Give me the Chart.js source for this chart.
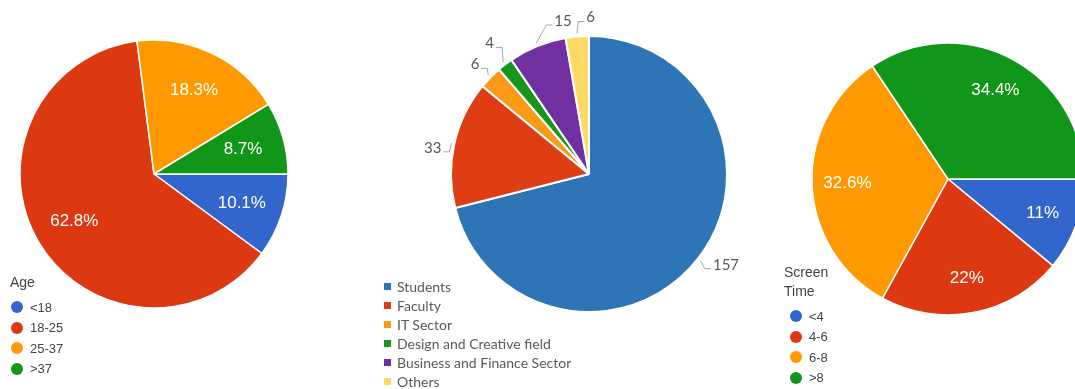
<!DOCTYPE html>
<html>
<head>
<meta charset="utf-8">
<script src="https://cdn.jsdelivr.net/npm/chart.js@4.4.1/dist/chart.umd.min.js"></script>
<style>
  html, body { margin: 0; padding: 0; background: #fff; }
  body { width: 1075px; height: 389px; overflow: hidden; position: relative; }
  canvas { position: absolute; }
  .legend { position: absolute; font-family: 'Liberation Sans', Arial, sans-serif; color: #444; }
  .legend .title { font-size: 14px; line-height: 19px; }
  .legend .item { display: flex; align-items: center; font-size: 13px; height: 20.5px; }
  .legend .dot { width: 12px; height: 12px; border-radius: 50%; margin-right: 7px; flex: none; }
  .legend.boxes { font-family: Lato, 'Open Sans', sans-serif; color: #595959; }
  .legend.boxes .item { font-size: 14px; height: 19px; }
  .legend.boxes .dot { width: 7px; height: 7px; border-radius: 0; margin-right: 6px; }
</style>
</head>
<body>
<canvas id="ageChart" width="272" height="272" style="left:18px;top:38px"></canvas>
<canvas id="jobChart" width="340" height="340" style="left:419px;top:4px"></canvas>
<canvas id="screenChart" width="290" height="290" style="left:803px;top:34px"></canvas>

<div class="legend" id="ageLegend" style="left:10px;top:273px"></div>
<div class="legend boxes" id="jobLegend" style="left:384px;top:277px"></div>
<div class="legend" id="screenLegend" style="left:784px;top:263px"></div>

<script>
// Age groups (percent of respondents)
const ageLabels = ['<18', '18-25', '25-37', '>37'];
const agePercent = [10.1, 62.8, 18.3, 8.7];

// Occupation (respondent counts)
const jobLabels = ['Students', 'Faculty', 'IT Sector', 'Design and Creative field', 'Business and Finance Sector', 'Others'];
const jobCounts = [157, 33, 6, 4, 15, 6];

// Daily screen time in hours (percent of respondents)
const screenLabels = ['<4', '4-6', '6-8', '>8'];
const screenPercent = [11, 22, 32.6, 34.4];

const googleColors = ['#3366cc', '#dc3912', '#ff9900', '#109618'];
const officeColors = ['#2e75b6', '#df3e14', '#fb9a16', '#16961a', '#7030a0', '#ffd966'];

// white percentage text inside each slice
const sliceLabels = {
  id: 'sliceLabels',
  afterDatasetsDraw(chart, args, opts) {
    const ctx = chart.ctx;
    const meta = chart.getDatasetMeta(0);
    const values = chart.data.datasets[0].data;
    ctx.save();
    ctx.font = opts.font;
    ctx.fillStyle = '#fff';
    ctx.textAlign = 'center';
    ctx.textBaseline = 'middle';
    meta.data.forEach((arc, i) => {
      const p = arc.getProps(['x', 'y', 'startAngle', 'endAngle', 'outerRadius'], true);
      const mid = (p.startAngle + p.endAngle) / 2;
      const r = p.outerRadius * opts.distance;
      ctx.fillText(values[i] + '%', p.x + Math.cos(mid) * r, p.y + Math.sin(mid) * r);
    });
    ctx.restore();
  }
};

// values outside the pie with bent leader lines
const calloutLabels = {
  id: 'calloutLabels',
  afterDatasetsDraw(chart, args, opts) {
    const ctx = chart.ctx;
    const meta = chart.getDatasetMeta(0);
    const values = chart.data.datasets[0].data;
    ctx.save();
    ctx.font = opts.font;
    ctx.lineWidth = 1;
    ctx.strokeStyle = opts.lineColor;
    ctx.fillStyle = opts.color;
    ctx.textBaseline = 'middle';
    meta.data.forEach((arc, i) => {
      const p = arc.getProps(['x', 'y', 'startAngle', 'endAngle', 'outerRadius'], true);
      const mid = (p.startAngle + p.endAngle) / 2;
      const ex = p.x + Math.cos(mid) * p.outerRadius;
      const ey = p.y + Math.sin(mid) * p.outerRadius;
      const sx = p.x + Math.cos(mid) * (p.outerRadius + 3);
      const sy = p.y + Math.sin(mid) * (p.outerRadius + 3);
      const bx = ex + opts.elbows[i][0];
      const by = ey + opts.elbows[i][1];
      const side = opts.sides[i];
      const tx = bx + side * 6;
      ctx.beginPath();
      ctx.moveTo(sx, sy);
      ctx.lineTo(bx, by);
      ctx.lineTo(tx, by);
      ctx.stroke();
      ctx.textAlign = side > 0 ? 'left' : 'right';
      ctx.fillText(String(values[i]), tx + side * 2, by - 4);
    });
    ctx.restore();
  }
};

function pieOptions(rotation, extra) {
  return {
    responsive: false,
    animation: false,
    devicePixelRatio: 1,
    rotation: rotation,
    events: [],
    layout: { padding: 0 },
    plugins: Object.assign({ legend: { display: false }, tooltip: { enabled: false } }, extra)
  };
}

new Chart(document.getElementById('ageChart'), {
  type: 'pie',
  data: {
    labels: ageLabels,
    datasets: [{ data: agePercent, backgroundColor: googleColors, borderColor: '#fff', borderWidth: 1.5, radius: 134 }]
  },
  options: pieOptions(90, { sliceLabels: { font: '17px "Liberation Sans", Arial, sans-serif', distance: 0.69 } }),
  plugins: [sliceLabels]
});

new Chart(document.getElementById('jobChart'), {
  type: 'pie',
  data: {
    labels: jobLabels,
    datasets: [{ data: jobCounts, backgroundColor: officeColors, borderColor: '#fff', borderWidth: 2, radius: 138 }]
  },
  options: pieOptions(0, {
    calloutLabels: {
      font: '15px Lato, "Open Sans", sans-serif',
      color: '#595959',
      lineColor: '#a6a6a6',
      elbows: [[7, 10], [-5, 8], [-3, -9], [-3, -17], [9, -21], [1, -15]],
      sides: [1, -1, -1, -1, 1, 1]
    }
  }),
  plugins: [calloutLabels]
});

new Chart(document.getElementById('screenChart'), {
  type: 'pie',
  data: {
    labels: screenLabels,
    datasets: [{ data: screenPercent, backgroundColor: googleColors, borderColor: '#fff', borderWidth: 1.5, radius: 136 }]
  },
  options: pieOptions(90, { sliceLabels: { font: '17px "Liberation Sans", Arial, sans-serif', distance: 0.74 } }),
  plugins: [sliceLabels]
});

function buildLegend(el, titleLines, labels, colors, gap, indent) {
  let html = '';
  if (titleLines.length) {
    html += '<div class="title" style="margin-bottom:' + gap + 'px">' + titleLines.join('<br>') + '</div>';
  }
  labels.forEach((label, i) => {
    const text = label.replace(/</g, '&lt;').replace(/>/g, '&gt;');
    html += '<div class="item" style="padding-left:' + indent + 'px"><span class="dot" style="background:' + colors[i] + '"></span>' + text + '</div>';
  });
  el.innerHTML = html;
}

buildLegend(document.getElementById('ageLegend'), ['Age'], ageLabels, googleColors, 5, 1);
buildLegend(document.getElementById('jobLegend'), [], jobLabels, officeColors, 0, 0);
buildLegend(document.getElementById('screenLegend'), ['Screen', 'Time'], screenLabels, googleColors, 5, 6);
</script>
</body>
</html>
